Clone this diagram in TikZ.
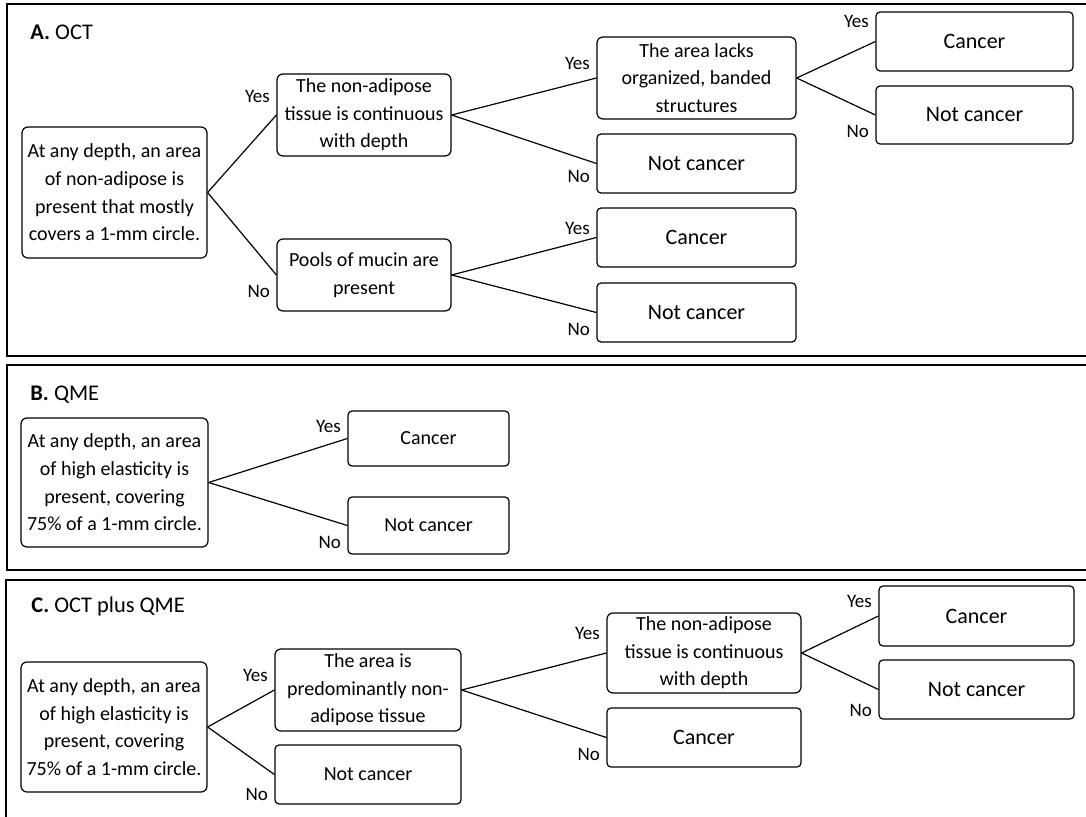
\documentclass[tikz,border=0pt]{standalone}
\usepackage{fontspec}
\setmainfont{Carlito}
\usepackage{tikz}
\tikzstyle{panel}=[draw, line width=.75pt]
\tikzstyle{question}=[draw, line width=.6pt, rounded corners=3pt, align=center, inner sep=0pt, font=\fontsize{10}{13.8}\selectfont]
\tikzstyle{leaf}=[draw, line width=.6pt, rounded corners=2pt, align=center, inner sep=0pt, font=\fontsize{11}{13.8}\selectfont]
\tikzstyle{smallleaf}=[leaf, font=\fontsize{10}{13.8}\selectfont]
\tikzstyle{title}=[anchor=west, inner sep=0pt, font=\fontsize{11.2}{13.8}\selectfont]
\tikzstyle{branch}=[line width=.6pt]
\tikzstyle{yeslbl}=[above left, inner sep=1.5pt, xshift=-1.5pt, yshift=2.5pt, font=\fontsize{9.5}{11}\selectfont]
\tikzstyle{nolbl}=[below left, inner sep=1.5pt, xshift=-1.5pt, yshift=-3.5pt, font=\fontsize{9.5}{11}\selectfont]

\begin{document}
\begin{tikzpicture}[x=.5pt, y=-.5pt]
	\useasboundingbox (0,0) rectangle (1086,817);
	\clip (0,0) rectangle (1086,817);
	% panels
	\draw[panel] (7,4) rectangle (1100,356);
	\draw[panel] (7,365) rectangle (1100,570);
	\draw[panel] (6,580) rectangle (1100,840);
	\node[title] (atitle) at (30,32) {\textbf{A.} OCT};
	\node[title] (btitle) at (30,395) {\textbf{B.} QME};
	\node[title] (ctitle) at (31,607) {\textbf{C.} OCT plus QME};

	% A. OCT
	\node[question, minimum width=92.5pt, minimum height=65.5pt] (aroot) at (114.5,192.5)
	  {At any depth, an area\\of non-adipose is\\present that mostly\\covers a 1-mm circle.};
	\node[question, minimum width=87pt, minimum height=41pt] (aq1) at (364,115)
	  {The non-adipose\\tissue is continuous\\with depth};
	\node[question, minimum width=87pt, minimum height=36pt] (aq2) at (364,275)
	  {Pools of mucin are\\present};
	\node[question, minimum width=99.5pt, minimum height=41pt] (aq3) at (696.5,78)
	  {The area lacks\\organized, banded\\structures};
	\node[leaf, minimum width=99.5pt, minimum height=29.5pt] (anc1) at (696.5,163.5) {Not cancer};
	\node[leaf, minimum width=99.5pt, minimum height=29.5pt] (ac2) at (696.5,237.5) {Cancer};
	\node[leaf, minimum width=99.5pt, minimum height=29.5pt] (anc2) at (696.5,312.5) {Not cancer};
	\node[leaf, minimum width=98.5pt, minimum height=29.5pt] (ac3) at (974.5,41.5) {Cancer};
	\node[leaf, minimum width=98.5pt, minimum height=29pt] (anc3) at (974.5,115) {Not cancer};
	\draw[branch] (aroot.east) -- (aq1.west) node[yeslbl, yshift=2pt] (ay1) {Yes};
	\draw[branch] (aroot.east) -- (aq2.west) node[nolbl] (an1) {No};
	\draw[branch] (aq1.east) -- (aq3.west) node[yeslbl] (ay2) {Yes};
	\draw[branch] (aq1.east) -- (anc1.west) node[nolbl, yshift=2pt] (an2) {No};
	\draw[branch] (aq2.east) -- (ac2.west) node[yeslbl, yshift=-3pt] (ay3) {Yes};
	\draw[branch] (aq2.east) -- (anc2.west) node[nolbl] (an3) {No};
	\draw[branch] (aq3.east) -- (ac3.west) node[yeslbl, yshift=2.5pt] (ay4) {Yes};
	\draw[branch] (aq3.east) -- (anc3.west) node[nolbl] (an4) {No};

	% B. QME
	\node[question, minimum width=93.5pt, minimum height=64.5pt] (broot) at (114.5,482.5)
	  {At any depth, an area\\of high elasticity is\\present, covering\\75\% of a 1-mm circle.};
	\node[smallleaf, minimum width=80.5pt, minimum height=27.5pt] (bc) at (428.5,438.5) {Cancer};
	\node[smallleaf, minimum width=80.5pt, minimum height=28.5pt] (bnc) at (428.5,525.5) {Not cancer};
	\draw[branch] (broot.east) -- (bc.west) node[yeslbl, yshift=-1.5pt] (by1) {Yes};
	\draw[branch] (broot.east) -- (bnc.west) node[nolbl] (bn1) {No};

	% C. OCT plus QME
	\node[question, minimum width=93pt, minimum height=65pt] (croot) at (114,727)
	  {At any depth, an area\\of high elasticity is\\present, covering\\75\% of a 1-mm circle.};
	\node[question, minimum width=93pt, minimum height=41pt] (cq1) at (368,690)
	  {The area is\\predominantly non-\\adipose tissue};
	\node[smallleaf, minimum width=93pt, minimum height=29.5pt] (cnc1) at (368,774.5) {Not cancer};
	\node[question, minimum width=97pt, minimum height=40pt] (cq2) at (704,653)
	  {The non-adipose\\tissue is continuous\\with depth};
	\node[leaf, minimum width=97pt, minimum height=29.5pt] (cc1) at (704,737.5) {Cancer};
	\node[leaf, minimum width=97.5pt, minimum height=30pt] (cc2) at (976.5,616) {Cancer};
	\node[leaf, minimum width=97.5pt, minimum height=29.5pt] (cnc2) at (976.5,689.5) {Not cancer};
	\draw[branch] (croot.east) -- (cq1.west) node[yeslbl] (cy1) {Yes};
	\draw[branch] (croot.east) -- (cnc1.west) node[nolbl, yshift=-1.5pt] (cn1) {No};
	\draw[branch] (cq1.east) -- (cq2.west) node[yeslbl, yshift=2.5pt] (cy2) {Yes};
	\draw[branch] (cq1.east) -- (cc1.west) node[nolbl] (cn2) {No};
	\draw[branch] (cq2.east) -- (cc2.west) node[yeslbl] (cy3) {Yes};
	\draw[branch] (cq2.east) -- (cnc2.west) node[nolbl, yshift=-2pt] (cn3) {No};
\end{tikzpicture}
\end{document}
